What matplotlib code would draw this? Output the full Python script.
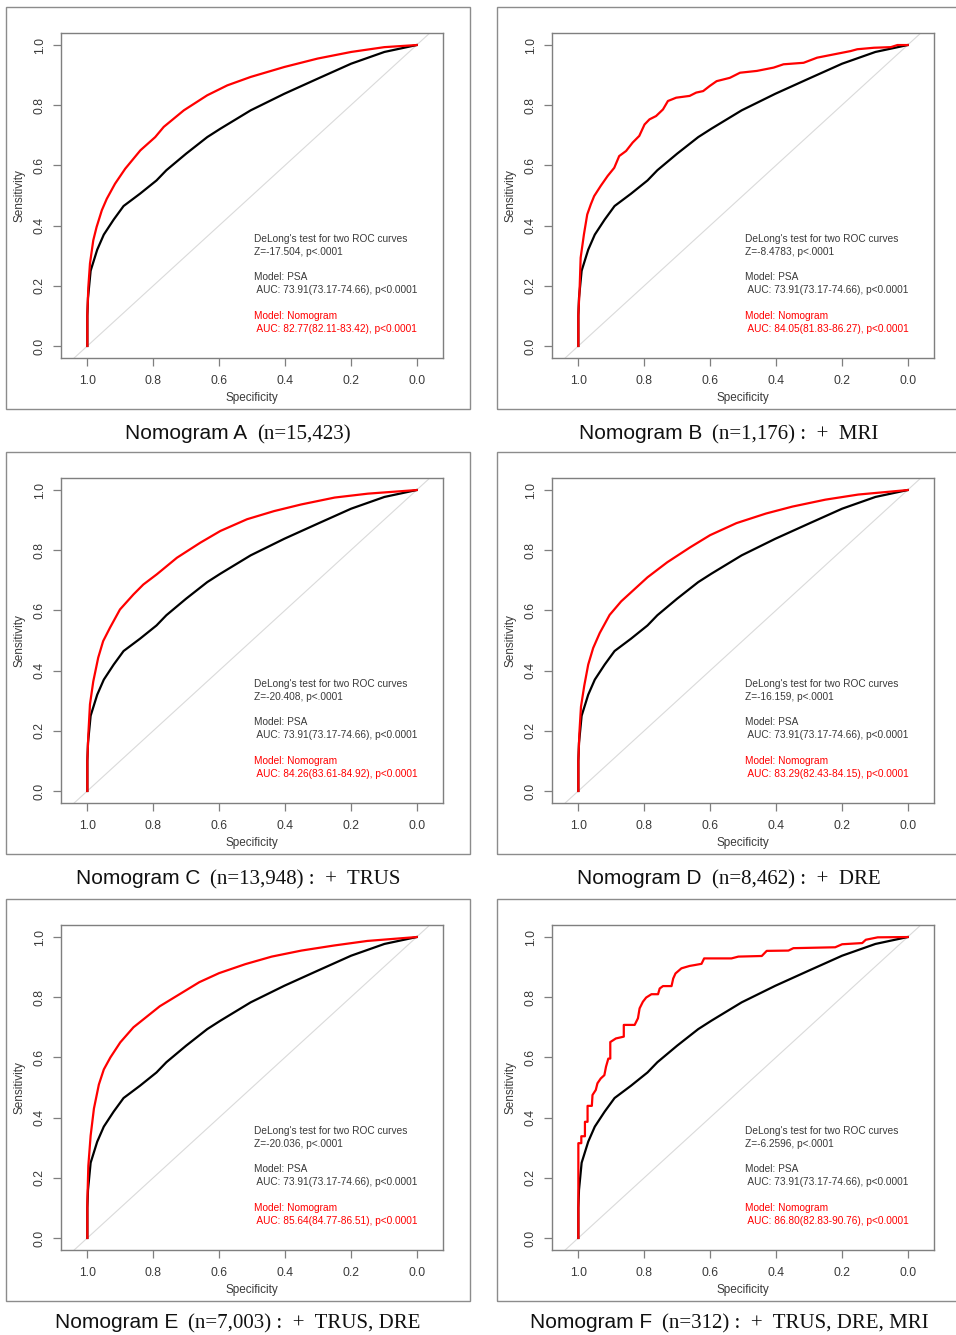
import matplotlib
matplotlib.use("Agg")
import matplotlib.pyplot as plt
from matplotlib.patches import Rectangle

# PSA-only model (same curve in every panel): specificity, sensitivity
psa_spec = [1.0, 1.0, 0.998, 0.99, 0.97, 0.95, 0.92, 0.89, 0.84, 0.79, 0.76,
            0.70, 0.636, 0.596, 0.504, 0.402, 0.301, 0.199, 0.098, 0.0]
psa_sens = [0.0, 0.10, 0.16, 0.25, 0.32, 0.37, 0.42, 0.465, 0.506, 0.55, 0.584,
            0.639, 0.694, 0.722, 0.783, 0.838, 0.888, 0.938, 0.977, 1.0]

# nomogram curves
nomo_a_spec = [1.0, 1.0, 0.997, 0.992, 0.982, 0.972, 0.956, 0.941, 0.916, 0.885, 0.839,
               0.794, 0.768, 0.707, 0.636, 0.575, 0.504, 0.402, 0.301, 0.199, 0.098, 0.0]
nomo_a_sens = [0.0, 0.107, 0.196, 0.274, 0.351, 0.395, 0.451, 0.489, 0.539, 0.589, 0.650,
               0.694, 0.728, 0.783, 0.833, 0.866, 0.894, 0.927, 0.955, 0.977, 0.993, 1.0]

nomo_b_spec = [1.0, 1.0, 0.996, 0.993, 0.983, 0.973, 0.962, 0.952, 0.932, 0.911, 0.891,
               0.876, 0.855, 0.835, 0.815, 0.799, 0.784, 0.764, 0.743, 0.728, 0.703,
               0.662, 0.642, 0.621, 0.601, 0.580, 0.540, 0.509, 0.458, 0.407, 0.377,
               0.316, 0.275, 0.224, 0.173, 0.153, 0.102, 0.051, 0.031, 0.0]
nomo_b_sens = [0.0, 0.105, 0.194, 0.293, 0.371, 0.437, 0.471, 0.498, 0.532, 0.565, 0.592,
               0.631, 0.648, 0.676, 0.698, 0.736, 0.753, 0.764, 0.786, 0.814, 0.825,
               0.831, 0.842, 0.847, 0.864, 0.880, 0.891, 0.908, 0.914, 0.925, 0.936,
               0.941, 0.958, 0.969, 0.980, 0.986, 0.991, 0.993, 1.0, 1.0]

nomo_c_spec = [1.0, 1.0, 0.997, 0.992, 0.982, 0.967, 0.952, 0.931, 0.901, 0.860, 0.830,
               0.789, 0.728, 0.657, 0.596, 0.515, 0.433, 0.351, 0.249, 0.148, 0.0]
nomo_c_sens = [0.0, 0.10, 0.188, 0.288, 0.364, 0.443, 0.498, 0.543, 0.603, 0.653, 0.686,
               0.720, 0.775, 0.825, 0.864, 0.903, 0.930, 0.952, 0.975, 0.988, 1.0]

nomo_d_spec = [1.0, 1.0, 0.997, 0.992, 0.982, 0.97, 0.955, 0.935, 0.905, 0.87, 0.83,
               0.79, 0.73, 0.66, 0.60, 0.52, 0.43, 0.35, 0.25, 0.15, 0.0]
nomo_d_sens = [0.0, 0.10, 0.19, 0.28, 0.35, 0.42, 0.475, 0.525, 0.585, 0.63, 0.67,
               0.71, 0.76, 0.81, 0.85, 0.89, 0.922, 0.945, 0.968, 0.985, 1.0]

nomo_e_spec = [1.0, 1.0, 0.997, 0.99, 0.98, 0.965, 0.95, 0.93, 0.90, 0.86, 0.82,
               0.78, 0.72, 0.66, 0.60, 0.52, 0.44, 0.35, 0.25, 0.15, 0.0]
nomo_e_sens = [0.0, 0.12, 0.24, 0.34, 0.43, 0.51, 0.56, 0.60, 0.65, 0.70, 0.735,
               0.77, 0.81, 0.85, 0.88, 0.91, 0.935, 0.955, 0.972, 0.987, 1.0]

nomo_f_spec = [1.0, 1.0, 0.991, 0.991, 0.98, 0.98, 0.972, 0.972, 0.959, 0.957, 0.947,
               0.942, 0.932, 0.921, 0.916, 0.909, 0.903, 0.903, 0.886, 0.862, 0.862,
               0.829, 0.819, 0.814, 0.804, 0.794, 0.778, 0.758, 0.753, 0.743, 0.717,
               0.712, 0.705, 0.687, 0.662, 0.646, 0.626, 0.618, 0.535, 0.514, 0.443,
               0.428, 0.362, 0.347, 0.22, 0.199, 0.138, 0.127, 0.091, 0.0]
nomo_f_sens = [0.0, 0.315, 0.315, 0.338, 0.338, 0.386, 0.386, 0.439, 0.439, 0.475, 0.492,
               0.514, 0.530, 0.541, 0.569, 0.596, 0.596, 0.651, 0.663, 0.669, 0.708,
               0.708, 0.730, 0.763, 0.785, 0.799, 0.810, 0.810, 0.829, 0.837, 0.837,
               0.862, 0.879, 0.896, 0.904, 0.907, 0.911, 0.929, 0.929, 0.935, 0.937,
               0.954, 0.955, 0.963, 0.966, 0.976, 0.980, 0.991, 0.999, 1.0]

panel_letters = ["A", "B", "C", "D", "E", "F"]
panel_n = ["15,423", "1,176", "13,948", "8,462", "7,003", "312"]
panel_added = ["", "MRI", "TRUS", "DRE", "TRUS, DRE", "TRUS, DRE, MRI"]
delong_z = ["-17.504", "-8.4783", "-20.408", "-16.159", "-20.036", "-6.2596"]
psa_auc = "73.91(73.17-74.66)"
nomo_auc = ["82.77(82.11-83.42)", "84.05(81.83-86.27)", "84.26(83.61-84.92)",
            "83.29(82.43-84.15)", "85.64(84.77-86.51)", "86.80(82.83-90.76)"]
nomo_curves = [(nomo_a_spec, nomo_a_sens), (nomo_b_spec, nomo_b_sens),
               (nomo_c_spec, nomo_c_sens), (nomo_d_spec, nomo_d_sens),
               (nomo_e_spec, nomo_e_sens), (nomo_f_spec, nomo_f_sens)]

W, H = 956, 1335
fig = plt.figure(figsize=(W / 100, H / 100), dpi=100)
fig.patch.set_facecolor("white")

frame_x = [6, 497]
frame_y = [7, 452, 899]
caption_y = [432, 877, 1321]
AXC = "#7f7f7f"
TXT = "#3a3a3a"
SANS = ["Liberation Sans", "DejaVu Sans"]


def px(x0, y0, w, h):
    # pixel box (top-left origin) -> figure fraction
    return [x0 / W, 1 - (y0 + h) / H, w / W, h / H]


captions = []
for i in range(6):
    row, col = divmod(i, 2)
    fx, fy = frame_x[col], frame_y[row]

    fig.patches.append(Rectangle((fx / W, 1 - (fy + 402) / H), 464 / W, 402 / H,
                                 transform=fig.transFigure, fill=False,
                                 edgecolor="#8c8c8c", linewidth=1.0))

    ax = fig.add_axes(px(fx + 55, fy + 26, 382, 325))
    ax.set_xlim(1.08, -0.08)
    ax.set_ylim(-0.04, 1.04)
    for s in ax.spines.values():
        s.set_color(AXC)
        s.set_linewidth(1.0)

    ax.plot([1.2, -0.2], [-0.2, 1.2], color="#dadada", linewidth=0.8)
    ax.plot(psa_spec, psa_sens, color="black", linewidth=1.6)
    spec, sens = nomo_curves[i]
    ax.plot(spec, sens, color="red", linewidth=1.6)

    ticks = [1.0, 0.8, 0.6, 0.4, 0.2, 0.0]
    ax.set_xticks(ticks)
    ax.set_xticklabels([f"{t:.1f}" for t in ticks])
    ax.set_yticks(ticks[::-1])
    ax.set_yticklabels([f"{t:.1f}" for t in ticks[::-1]], rotation=90, va="center")
    ax.tick_params(axis="both", direction="out", length=6, width=0.9, color=AXC,
                   labelcolor=TXT, labelsize=8.8)
    ax.tick_params(axis="x", pad=6)
    ax.tick_params(axis="y", pad=5)
    for lab in ax.get_xticklabels() + ax.get_yticklabels():
        lab.set_family(SANS)
    ax.set_xlabel("Specificity", fontsize=8.5, color=TXT, family=SANS, labelpad=4)
    ax.set_ylabel("Sensitivity", fontsize=8.5, color=TXT, family=SANS, labelpad=6)

    lines = [("DeLong's test for two ROC curves", 0.354, TXT),
             (f"Z={delong_z[i]}, p<.0001", 0.311, TXT),
             ("Model: PSA", 0.228, TXT),
             (f" AUC: {psa_auc}, p<0.0001", 0.185, TXT),
             ("Model: Nomogram", 0.099, "red"),
             (f" AUC: {nomo_auc[i]}, p<0.0001", 0.056, "red")]
    for txt, yv, c in lines:
        ax.text(0.494, yv, txt, fontsize=7.3, color=c, family=SANS,
                ha="left", va="center")

    head = f"Nomogram {panel_letters[i]}"
    tail = f"(n={panel_n[i]})"
    if panel_added[i]:
        tail += f" :  +  {panel_added[i]}"
    yb = 1 - (caption_y[row] + 7) / H
    t1 = fig.text(0, yb, head, fontsize=15, va="baseline",
                  family=SANS, color="#111111")
    t2 = fig.text(0, yb, tail, fontsize=15, va="baseline",
                  family=["Liberation Serif", "DejaVu Serif"], color="#111111")
    captions.append((fx + 232, t1, t2))

# center each two-font caption under its frame
r = fig.canvas.get_renderer()
for cx, t1, t2 in captions:
    w1 = t1.get_window_extent(r).width
    w2 = t2.get_window_extent(r).width
    gap = 10
    x0 = cx - (w1 + gap + w2) / 2
    t1.set_x(x0 / W)
    t2.set_x((x0 + w1 + gap) / W)

fig.savefig("out.png", dpi=100, facecolor="white")
